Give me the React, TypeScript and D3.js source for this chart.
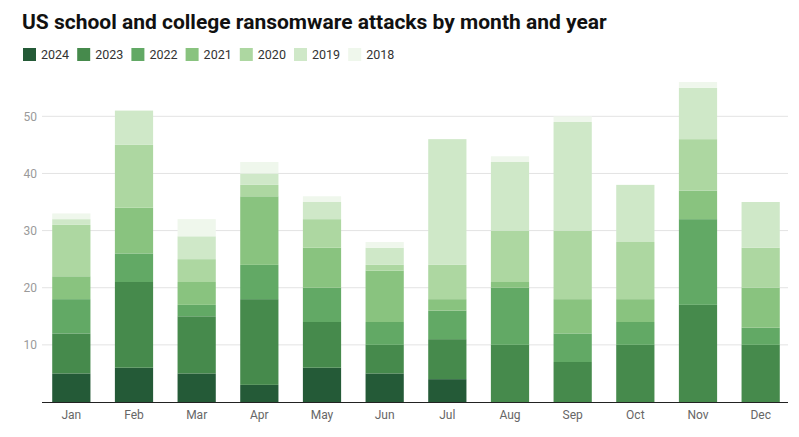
import * as d3 from 'd3'

const months = ['Jan', 'Feb', 'Mar', 'Apr', 'May', 'Jun', 'Jul', 'Aug', 'Sep', 'Oct', 'Nov', 'Dec']
const years = ['2024', '2023', '2022', '2021', '2020', '2019', '2018']

// attacks per month, one array per year (bottom to top of stack)
const y2024 = [5, 6, 5, 3, 6, 5, 4, 0, 0, 0, 0, 0]
const y2023 = [7, 15, 10, 15, 8, 5, 7, 10, 7, 10, 17, 10]
const y2022 = [6, 5, 2, 6, 6, 4, 5, 10, 5, 4, 15, 3]
const y2021 = [4, 8, 4, 12, 7, 9, 2, 1, 6, 4, 5, 7]
const y2020 = [9, 11, 4, 2, 5, 1, 6, 9, 12, 10, 9, 7]
const y2019 = [1, 6, 4, 2, 3, 3, 22, 12, 19, 10, 9, 8]
const y2018 = [1, 0, 3, 2, 1, 1, 0, 1, 1, 0, 1, 0]

const yTicks = [10, 20, 30, 40, 50]
const colors = ['#245a37', '#468a4c', '#62a965', '#89c37f', '#add7a1', '#cfe8c8', '#eff7ec']

const W = 799
const H = 437
const font = 'Roboto, "Noto Sans", sans-serif'

export default function App() {
  const seriesValues = [y2024, y2023, y2022, y2021, y2020, y2019, y2018]
  const rows = months.map((m, i) => {
    const r: Record<string, number | string> = { month: m }
    years.forEach((yr, k) => { r[yr] = seriesValues[k][i] })
    return r
  })
  const stacked = d3.stack<Record<string, number | string>>().keys(years)(rows as any)

  const x = d3.scaleBand().domain(months).range([40, 792]).paddingInner(0.39).paddingOuter(0.195)
  const y = d3.scaleLinear().domain([0, 50]).range([402, 116.3])
  const color = d3.scaleOrdinal<string>().domain(years).range(colors)

  return (
    <svg width={W} height={H} style={{ position: 'absolute', left: 0, top: 0, background: '#fff' }} fontFamily={font}>
      <text x={22} y={29} fontSize={21} fontWeight={700} fill="#111">
        US school and college ransomware attacks by month and year
      </text>
      {years.map((yr, i) => (
        <g key={yr} transform={`translate(${23 + i * 54.2},48)`}>
          <rect width={13} height={13} fill={color(yr)} />
          <text x={18} y={11} fontSize={12.5} fill="#333">{yr}</text>
        </g>
      ))}
      {yTicks.map(t => (
        <g key={t}>
          <line x1={42} x2={788} y1={y(t)} y2={y(t)} stroke="#e3e3e3" strokeWidth={1} />
          <text x={37} y={y(t)} dy="0.35em" textAnchor="end" fontSize={12} fill="#9a9a9a">{t}</text>
        </g>
      ))}
      {stacked.map(s => (
        <g key={s.key} fill={color(s.key)}>
          {s.map((d, i) => (
            d[1] > d[0] ? (
              <rect
                key={i}
                x={x(months[i])}
                width={x.bandwidth()}
                y={y(d[1])}
                height={y(d[0]) - y(d[1])}
              />
            ) : null
          ))}
        </g>
      ))}
      <line x1={42} x2={788} y1={402.5} y2={402.5} stroke="#222" strokeWidth={1.2} />
      {months.map(m => (
        <text key={m} x={(x(m) ?? 0) + x.bandwidth() / 2} y={419} textAnchor="middle" fontSize={12} fill="#666">{m}</text>
      ))}
    </svg>
  )
}
